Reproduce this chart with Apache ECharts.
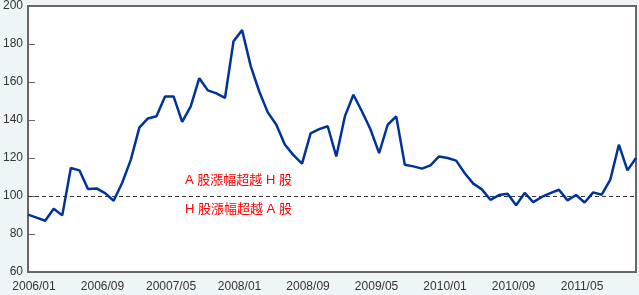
<!DOCTYPE html>
<html>
<head>
<meta charset="utf-8">
<script src="https://cdn.jsdelivr.net/npm/echarts@6/dist/echarts.min.js"></script>
<style>
html,body{margin:0;padding:0;background:#EDF5F7;}
#chart{width:639px;height:295px;}
</style>
</head>
<body>
<div id="chart"></div>
<script>
// Monthly categories 2006/01 .. 2011/12
const months = [];
for (let y = 2006; y <= 2011; y++) {
  for (let m = 1; m <= 12; m++) months.push(y + '/' + (m < 10 ? '0' + m : m));
}
// Tick labels as printed in the reference (every 8 months)
const tickLabels = ['2006/01', '2006/09', '20007/05', '2008/01', '2008/09', '2009/05', '2010/01', '2010/09', '2011/05'];
const tickEvery = 8;

// A/H premium index values
const values = [
  90.2, 88.6, 87.0, 93.3, 89.8, 114.7, 113.5, 103.7, 104.0, 101.5,
  97.5, 107.0, 119.0, 136.0, 140.8, 142.0, 152.4, 152.4, 139.0, 147.2,
  162.0, 155.6, 154.0, 151.6, 181.5, 187.3, 168.5, 155.0, 144.0, 137.5,
  127.0, 121.5, 117.0, 133.0, 135.2, 136.7, 120.8, 141.9, 153.3, 144.5,
  135.0, 122.6, 137.5, 141.9, 116.5, 115.6, 114.4, 116.1, 120.8, 120.0,
  118.6, 112.0, 106.5, 103.5, 98.0, 100.5, 101.2, 95.1, 101.6, 96.8,
  99.5, 101.5, 103.3, 97.7, 100.5, 96.6, 101.9, 100.7, 108.6, 127.0,
  113.5, 120.0
];
const baseline = 100;
const noteAbove = 'A 股漲幅超越 H 股';
const noteBelow = 'H 股漲幅超越 A 股';

const chart = echarts.init(document.getElementById('chart'), null, {renderer: 'canvas'});
const latin = '"Liberation Sans", Arial, sans-serif';
chart.setOption({
  animation: false,
  backgroundColor: '#EDF5F7',
  grid: {
    left: 27, right: 2, top: 5, bottom: 23,
    show: true, backgroundColor: '#ffffff', borderColor: '#666666', borderWidth: 2
  },
  xAxis: {
    type: 'category',
    data: months,
    boundaryGap: false,
    axisLine: {show: false},
    axisTick: {show: false},
    splitLine: {show: false},
    axisLabel: {
      interval: 0,
      margin: 9,
      color: '#333333',
      fontSize: 12,
      fontFamily: latin,
      padding: [0, 0, 0, 12],
      formatter: function (v, i) {
        return i % tickEvery === 0 ? (tickLabels[i / tickEvery] || '') : '';
      }
    }
  },
  yAxis: {
    type: 'value',
    min: 60, max: 200, interval: 20,
    axisLine: {show: false},
    axisTick: {show: true, inside: true, length: 7, lineStyle: {color: '#666666', width: 1}},
    splitLine: {show: false},
    axisLabel: {margin: 5, color: '#333333', fontSize: 12, fontFamily: latin}
  },
  series: [{
    type: 'line',
    data: values,
    symbol: 'none',
    lineStyle: {color: '#00339A', width: 2.5},
    z: 5,
    markLine: {
      silent: true,
      symbol: 'none',
      label: {show: false},
      lineStyle: {color: '#333333', type: [4, 3], width: 1},
      data: [{yAxis: baseline}],
      z: 3
    }
  }],
  graphic: [
    {type: 'text', left: 185, top: 174, style: {text: noteAbove, fill: '#ff0000', font: '13px "Liberation Sans", "Noto Sans CJK TC"'}},
    {type: 'text', left: 185, top: 203, style: {text: noteBelow, fill: '#ff0000', font: '13px "Liberation Sans", "Noto Sans CJK TC"'}}
  ]
});
</script>
</body>
</html>
